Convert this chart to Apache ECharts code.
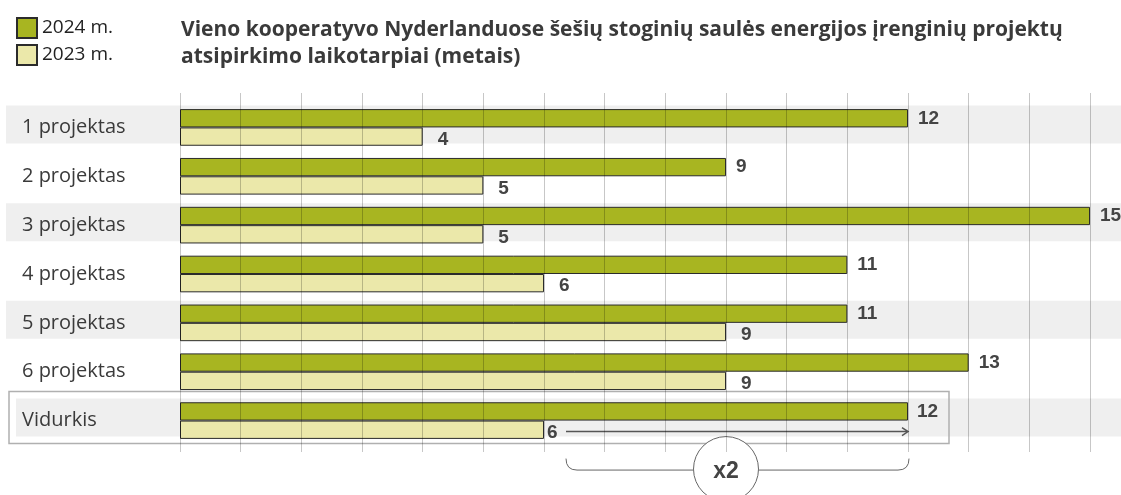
<!DOCTYPE html>
<html>
<head>
<meta charset="utf-8">
<script src="https://cdn.jsdelivr.net/npm/echarts@6/dist/echarts.min.js"></script>
<style>html,body{margin:0;padding:0;background:#fff}#c{width:1121px;height:495px}</style>
</head>
<body>
<div id="c"></div>
<script>
const categories = ['1 projektas', '2 projektas', '3 projektas', '4 projektas', '5 projektas', '6 projektas', 'Vidurkis'];
const values2024 = [12, 9, 15, 11, 11, 13, 12];
const values2023 = [4, 5, 5, 6, 9, 9, 6];
const seriesNames = ['2024 m.', '2023 m.'];
const shadedRows = ['1 projektas', '3 projektas', '5 projektas', 'Vidurkis'];
const averageRow = 'Vidurkis';
const ratioLabel = 'x2';
const titleText = 'Vieno kooperatyvo Nyderlanduose šešių stoginių saulės energijos įrenginių projektų\natsipirkimo laikotarpiai (metais)';

const GREEN = '#a8b521';
const YELLOW = '#ebe8aa';
const BORDER = '#2b2b2b';
const LABEL = {fontFamily: 'Liberation Sans', fontWeight: 'bold', fontSize: 19, color: '#444'};

const avgIdx = categories.indexOf(averageRow);

const chart = echarts.init(document.getElementById('c'));

const data2024 = values2024.map((v, i) => i === avgIdx ? {value: v, label: {distance: 9}} : v);
const data2023 = values2023.map((v, i) => i === avgIdx ? {value: v, label: {distance: 3}} : v);

chart.setOption({
  animation: false,
  title: {
    text: titleText, left: 176, top: 12,
    textStyle: {fontFamily: 'Open Sans', fontWeight: 'bold', fontSize: 21, lineHeight: 27, color: '#3a3a3a'}
  },
  legend: {
    orient: 'vertical', left: 11, top: 12, itemWidth: 20, itemHeight: 20, itemGap: 5,
    selectedMode: false, data: seriesNames, icon: 'rect',
    textStyle: {fontFamily: 'Open Sans', fontSize: 19, color: '#222'}
  },
  grid: [
    {left: 180, right: 31, top: 103, bottom: 50},
    {left: 180, right: 31, top: 93, bottom: 43}
  ],
  xAxis: [
    {type: 'value', gridIndex: 0, min: 0, max: 15, interval: 1, show: false},
    {type: 'value', gridIndex: 1, min: 0, max: 15, interval: 1, z: 10,
     axisLine: {show: false}, axisTick: {show: false}, axisLabel: {show: false},
     splitLine: {show: true, lineStyle: {color: 'rgba(0,0,0,0.22)', width: 1}}}
  ],
  yAxis: [
    {type: 'category', gridIndex: 0, data: categories, inverse: true, z: 6,
     axisLine: {show: false}, axisTick: {show: false}, splitLine: {show: false},
     axisLabel: {align: 'left', margin: 158, fontFamily: 'Open Sans', fontSize: 20, color: '#3a3a3a'}},
    {type: 'value', gridIndex: 1, show: false, min: 0, max: 1}
  ],
  series: [
    {
      type: 'custom', name: 'bands', coordinateSystem: 'cartesian2d', xAxisIndex: 0, yAxisIndex: 0,
      clip: false, z: 1, silent: true,
      data: shadedRows.map(r => [0, r]),
      encode: {x: 0, y: 1},
      renderItem: function (params, api) {
        const idx = api.value(1);
        const c = api.coord([0, idx]);
        const isAvg = idx === avgIdx;
        const children = [{
          type: 'rect',
          shape: {x: isAvg ? 16 : 6, y: c[1] - 22, width: api.getWidth(), height: 38},
          style: {fill: '#efefef'}
        }];
        if (isAvg) {
          const r = api.coord([values2024[avgIdx], idx]);
          children.push({
            type: 'rect',
            shape: {x: 9, y: c[1] - 29, width: r[0] + 41 - 9, height: 52},
            style: {fill: 'none', stroke: '#b0b0b0', lineWidth: 1.5}
          });
        }
        return {type: 'group', children: children};
      }
    },
    {
      name: seriesNames[0], type: 'bar', xAxisIndex: 0, yAxisIndex: 0, z: 2,
      barGap: '0%', barCategoryGap: '25%',
      itemStyle: {color: GREEN, borderColor: BORDER, borderWidth: 1},
      label: Object.assign({show: true, position: 'right', distance: 10}, LABEL),
      data: data2024
    },
    {
      name: seriesNames[1], type: 'bar', xAxisIndex: 0, yAxisIndex: 0, z: 2,
      barGap: '0%', barCategoryGap: '25%',
      itemStyle: {color: YELLOW, borderColor: BORDER, borderWidth: 1},
      label: Object.assign({show: true, position: 'right', distance: 15, offset: [0, 3]}, LABEL),
      data: data2023
    },
    {
      type: 'custom', name: 'annotation', coordinateSystem: 'cartesian2d', xAxisIndex: 0, yAxisIndex: 0,
      clip: false, z: 5, silent: true,
      data: [[values2023[avgIdx], values2024[avgIdx], averageRow]],
      encode: {x: [0, 1], y: 2},
      renderItem: function (params, api) {
        const idx = api.value(2);
        const v0 = api.value(0), v1 = api.value(1);
        const p0 = api.coord([v0, idx]);
        const p1 = api.coord([v1, idx]);
        const pm = api.coord([(v0 + v1) / 2, idx]);
        const cy = p0[1];
        const ay = cy + 11;
        const ax0 = p0[0] + 22, ax1 = p1[0];
        const bx0 = p0[0] + 22, bx1 = p1[0] + 1;
        const by0 = cy + 38, by1 = cy + 49.5;
        const R = 32.5;
        const cx = pm[0], ccy = cy + 48.5;
        const stroke = '#666';
        return {
          type: 'group',
          children: [
            {type: 'line', shape: {x1: ax0, y1: ay, x2: ax1 - 1, y2: ay}, style: {stroke: '#555', lineWidth: 1.5}},
            {type: 'polyline', shape: {points: [[ax1 - 6, ay - 4], [ax1, ay], [ax1 - 6, ay + 4]]}, style: {stroke: '#555', lineWidth: 1.5, fill: 'none'}},
            {type: 'path', shape: {pathData:
              'M' + bx0 + ' ' + by0 + ' Q' + bx0 + ' ' + by1 + ' ' + (bx0 + 11) + ' ' + by1 + ' L' + (cx - R) + ' ' + by1 +
              ' M' + (cx + R) + ' ' + by1 + ' L' + (bx1 - 11) + ' ' + by1 + ' Q' + bx1 + ' ' + by1 + ' ' + bx1 + ' ' + by0},
              style: {stroke: stroke, lineWidth: 1, fill: 'none'}},
            {type: 'circle', shape: {cx: cx, cy: ccy, r: R}, style: {fill: '#fff', stroke: stroke, lineWidth: 1}},
            {type: 'text', x: cx, y: ccy + 3, style: {text: ratioLabel, align: 'center', verticalAlign: 'middle',
              fontFamily: 'Liberation Sans', fontWeight: 'bold', fontSize: 23, fill: '#444'}}
          ]
        };
      }
    }
  ]
});
</script>
</body>
</html>
